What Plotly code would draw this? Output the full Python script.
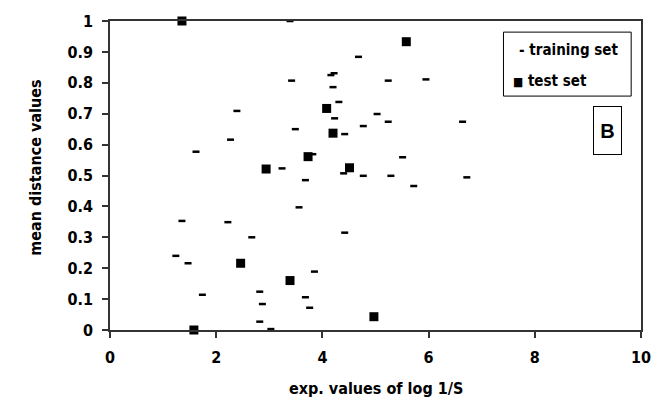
import plotly.graph_objects as go

# training set (exp. log 1/S, mean distance)
train_x = [3.39, 3.42, 2.39, 3.49, 2.27, 1.62, 3.24, 4.68, 4.22, 4.16, 5.24, 5.95,
           4.20, 4.31, 4.23, 5.03, 5.24, 6.64, 4.77, 4.42, 5.51, 4.40, 4.77, 5.29,
           6.72, 5.72, 3.68, 3.56, 4.42, 3.85, 3.68, 3.76, 1.355, 2.22, 2.67, 1.24,
           1.47, 1.74, 2.82, 2.87, 2.82, 3.03, 3.82]
train_y = [1.0, 0.807, 0.709, 0.650, 0.616, 0.577, 0.523, 0.884, 0.831, 0.825, 0.807, 0.811,
           0.786, 0.738, 0.685, 0.699, 0.674, 0.674, 0.660, 0.634, 0.559, 0.507, 0.499, 0.499,
           0.494, 0.466, 0.485, 0.397, 0.315, 0.189, 0.106, 0.072, 0.353, 0.349, 0.300, 0.240,
           0.216, 0.114, 0.124, 0.084, 0.027, 0.003, 0.569]

# test set
test_x = [1.355, 5.58, 4.08, 4.20, 3.73, 4.51, 2.94, 2.46, 3.39, 4.97, 1.58]
test_y = [1.0, 0.933, 0.717, 0.637, 0.561, 0.525, 0.521, 0.216, 0.160, 0.043, 0.0]

x_ticks = [0, 2, 4, 6, 8, 10]
y_ticks = [0, 0.1, 0.2, 0.3, 0.4, 0.5, 0.6, 0.7, 0.8, 0.9, 1]
y_tick_labels = ["0", "0.1", "0.2", "0.3", "0.4", "0.5", "0.6", "0.7", "0.8", "0.9", "1"]
legend_labels = ["training set", "test set"]

FONT = "Liberation Sans Narrow, DejaVu Sans Condensed, Arial Narrow, sans-serif"

fig = go.Figure()
fig.add_trace(go.Scatter(
    x=train_x, y=train_y, mode="markers", name="training set",
    marker=dict(symbol="line-ew", size=5, color="black",
                line=dict(color="black", width=2.5)),
    cliponaxis=False,
))
fig.add_trace(go.Scatter(
    x=test_x, y=test_y, mode="markers", name="test set",
    marker=dict(symbol="square", size=9, color="black",
                line=dict(width=0)),
    cliponaxis=False,
))

axis_common = dict(
    showgrid=False, zeroline=False, showline=True, mirror=True,
    linecolor="#333333", linewidth=1.5,
    ticks="outside", ticklen=6, tickwidth=1.5, tickcolor="#333333",
    tickfont=dict(family=FONT, size=16, color="black", weight="bold"),
)

legend_font = dict(family=FONT, size=15, color="black", weight="bold")

fig.update_layout(
    width=662, height=402,
    margin=dict(l=110, r=11, t=21, b=72),
    paper_bgcolor="white", plot_bgcolor="white",
    xaxis=dict(range=[0, 10], tickvals=x_ticks, ticklabelstandoff=6, **axis_common),
    yaxis=dict(range=[0, 1], tickvals=y_ticks, ticktext=y_tick_labels,
               ticklabelstandoff=6, **axis_common),
    showlegend=False,
    shapes=[
        dict(type="rect", xref="paper", yref="paper",
             x0=0.741, x1=0.9815, y0=0.757, y1=0.964,
             line=dict(color="black", width=1), fillcolor="white", layer="above"),
    ],
    annotations=[
        dict(text="- " + legend_labels[0], xref="paper", yref="paper", x=0.767, y=0.906,
             xanchor="left", yanchor="middle", showarrow=False, font=legend_font),
        dict(text="<span style='font-size:12px'>\u25a0</span> " + legend_labels[1],
             xref="paper", yref="paper", x=0.756, y=0.806,
             xanchor="left", yanchor="middle", showarrow=False, font=legend_font),
        dict(text="B", xref="paper", yref="paper", x=0.936, y=0.646,
             xanchor="center", yanchor="middle",
             showarrow=False, font=dict(family="Liberation Sans, Arial, sans-serif",
                                         size=20, color="black", weight="bold"),
             bordercolor="black", borderwidth=1, borderpad=1, width=25, height=45,
             bgcolor="white"),
        dict(text="mean distance values", xref="paper", yref="paper",
             x=-0.142, y=0.524, xanchor="center", yanchor="middle",
             textangle=-90, showarrow=False,
             font=dict(family=FONT, size=16, color="black", weight="bold")),
        dict(text="exp. values of log 1/S", xref="paper", yref="paper",
             x=0.5, y=-0.188, xanchor="center", yanchor="middle", showarrow=False,
             font=dict(family=FONT, size=16, color="black", weight="bold")),
    ],
)

fig.write_html("out.html", config={"displayModeBar": False},
               post_script="document.body.style.margin='0';")
